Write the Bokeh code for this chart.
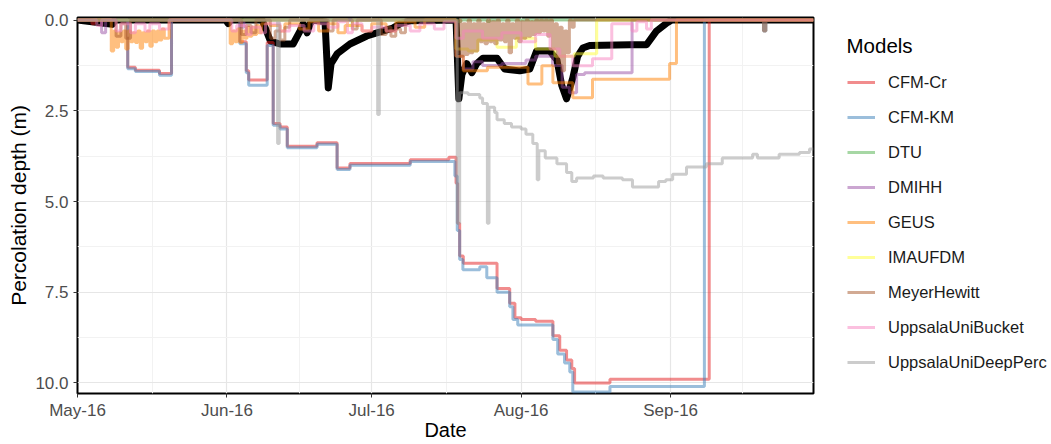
import pandas as pd
from bokeh.plotting import figure
from bokeh.layouts import row
from bokeh.models import (Range1d, FixedTicker, DatetimeTickFormatter, NumeralTickFormatter,
                          Legend, LegendItem, Label)
from bokeh.embed import file_html
from bokeh.resources import INLINE

# ---------------- data (dates as "MM-DD HH" in 2016, depth in m) ----------------
models = ["CFM-Cr", "CFM-KM", "DTU", "DMIHH", "GEUS", "IMAUFDM", "MeyerHewitt",
          "UppsalaUniBucket", "UppsalaUniDeepPerc"]
colors = ["#E41A1C", "#377EB8", "#4DAF4A", "#984EA3", "#FF7F00", "#FFFF33", "#A65628",
          "#F781BF", "#999999"]

cfm_cr_dates = ["05-01 00", "05-04 00", "05-04 12", "05-11 10", "05-13 00", "05-18 00", "05-20 12",
                "06-03 16", "06-05 00", "06-05 12", "06-09 08", "06-10 14", "06-12 00", "06-13 12",
                "06-19 16", "06-23 20", "06-26 12", "07-09 00", "07-17 00", "07-18 12", "07-18 20",
                "07-19 06", "07-20 00", "07-27 00", "07-29 15", "07-30 17", "08-01 00", "08-04 00",
                "08-07 14", "08-09 00", "08-10 10", "08-11 12", "08-12 02", "08-19 10", "09-09 00",
                "09-30 15"]
cfm_cr_depth = [0, 0.1, 0, 1.30, 1.38, 1.47, 0,
                0.6, 1.4, 1.65, 0.62, 2.85, 2.95, 3.48,
                3.38, 4.08, 3.95, 3.85, 3.78, 4.5, 5.6,
                6.5, 6.7, 7.4, 7.8, 8.2, 8.25, 8.3,
                8.7, 9.1, 9.37, 9.6, 10.0, 9.9, 0,
                0]

cfm_km_dates = ["05-01 00", "05-11 10", "05-13 00", "05-18 00", "05-20 12", "06-03 16", "06-05 00",
                "06-05 12", "06-09 08", "06-10 14", "06-12 00", "06-13 12", "06-19 16", "06-23 20",
                "06-26 12", "07-09 00", "07-18 06", "07-18 18", "07-19 06", "07-19 22", "07-23 10",
                "07-24 21", "07-27 00", "07-29 15", "07-30 07", "07-31 07", "08-07 14", "08-08 14",
                "08-10 00", "08-11 02", "08-11 17", "08-19 10", "09-08 00", "09-20 06", "09-20 18",
                "09-30 15"]
cfm_km_depth = [0, 1.34, 1.42, 1.52, 0, 0.65, 1.45,
                1.8, 0.7, 2.9, 3.0, 3.52, 3.42, 4.12,
                4.0, 3.9, 4.3, 5.8, 6.6, 6.88, 6.8,
                7.1, 7.5, 7.9, 8.25, 8.4, 8.8, 9.2,
                9.45, 9.7, 10.25, 10.1, 0, 0.3, 0,
                0]

dtu_dates = ["05-01 00", "07-19 00", "07-19 12", "07-25 00", "07-25 12", "09-30 15"]
dtu_depth = [0, 0.04, 0, 0.04, 0, 0]

dmihh_dates = ["05-01 00", "05-06 00", "05-06 20", "06-04 00", "06-04 12", "07-18 12", "07-20 00",
               "07-22 00", "07-24 00", "07-28 00", "08-02 00", "08-04 00", "08-07 12", "08-09 12",
               "08-11 00", "08-12 12", "08-14 04", "08-24 00", "09-30 15"]
dmihh_depth = [0, 0.35, 0, 0.2, 0, 1.0, 1.35,
               1.15, 1.25, 1.2, 1.1, 1.0, 1.25, 1.85,
               2.0, 1.5, 1.45, 0, 0]

geus_dates = ["05-01 00", "05-08 00", "05-08 12", "05-09 00", "05-09 12", "05-10 00", "05-10 12",
              "05-11 00", "05-11 12", "05-12 00", "05-12 12", "05-13 00", "05-13 12", "05-14 00",
              "05-14 12", "05-15 00", "05-15 12", "05-16 00", "05-16 12", "05-17 00", "05-17 12",
              "05-18 00", "05-18 12", "05-19 00", "05-20 00",
              "06-01 16", "06-02 04", "06-02 16", "06-03 04", "06-03 16", "06-04 04", "06-04 16",
              "06-05 04", "06-05 16", "06-06 04", "06-06 16", "06-07 04", "06-07 16", "06-08 04",
              "06-10 00", "06-12 00", "06-13 00", "06-16 00", "06-18 00", "06-20 00",
              "06-22 00", "06-24 00", "06-25 12", "06-29 00", "07-01 00", "07-04 00", "07-06 00",
              "07-10 00", "07-12 00", "07-18 12", "07-20 00", "07-25 00", "08-02 10", "08-05 07",
              "08-07 14", "08-11 17", "08-15 19", "08-31 19", "09-02 05", "09-30 15"]
geus_depth = [0, 0.85, 0.3, 0.75, 0.35, 0.6, 0.3,
              0.8, 0.3, 0.6, 0.35, 0.62, 0.3, 0.78,
              0.35, 0.6, 0.3, 0.72, 0.3, 0.6, 0.3,
              0.55, 0.25, 0.5, 0,
              0.65, 0.3, 0.6, 0.25, 0.62, 0.3, 0.5,
              0.2, 0.45, 0.2, 0.4, 0.15, 0.35, 0.1,
              0.15, 0.3, 0.1, 0.25, 0.05, 0.3,
              0.1, 0.35, 0.15, 0.3, 0.1, 0.3, 0.05,
              0.2, 0, 1.0, 1.4, 1.3, 1.76, 1.26,
              1.73, 2.14, 1.63, 1.2, 0, 0]

imau_dates = ["05-01 00", "06-26 00", "06-27 00", "07-18 12", "07-21 00", "07-23 00", "07-27 00",
              "07-31 00", "08-04 00", "08-08 00", "08-12 00", "08-16 16", "09-30 15"]
imau_depth = [0, 0.15, 0, 0.8, 0.85, 0.55, 0.75,
              0.5, 0.8, 1.0, 0.93, 0, 0]

meyer_dates = ["05-01 00", "05-09 00", "05-10 00", "05-11 00", "05-12 00", "06-04 00", "06-05 00",
               "06-06 00", "06-07 00", "06-10 00", "06-11 00", "06-12 00", "06-13 00", "06-14 00",
               "06-22 00", "06-23 00", "06-27 00", "06-28 00", "07-03 00", "07-04 00", "07-05 00",
               "07-06 00", "07-07 00", "07-08 00",
               "07-18 12", "07-19 00", "07-19 12", "07-20 00", "07-20 12", "07-21 00", "07-21 12",
               "07-22 00", "07-22 12", "07-23 00", "07-23 12", "07-24 00", "07-24 12", "07-25 00",
               "07-25 12", "07-26 00", "07-26 12", "07-27 00", "07-27 12", "07-28 00", "07-28 12",
               "07-29 00", "07-29 12", "07-30 00", "07-30 12", "07-31 00", "07-31 12", "08-01 00",
               "08-01 12", "08-02 00", "08-02 12", "08-03 00", "08-03 12", "08-04 00", "08-04 12",
               "08-05 00", "08-05 12", "08-06 00", "08-06 12", "08-07 00", "08-07 12", "08-08 00",
               "08-08 12", "08-09 00", "08-09 12", "08-10 00", "08-10 12", "08-11 00", "08-11 12",
               "08-12 00", "09-20 06", "09-20 18", "09-30 15"]
meyer_depth = [0, 0.45, 0.1, 0.5, 0, 0.4, 0.15,
               0.35, 0, 0.5, 0.3, 0.55, 0.2, 0,
               0.3, 0, 0.25, 0, 0.4, 0.2, 0.45,
               0.25, 0.35, 0,
               0.9, 0, 1.0, 0.1, 0.95, 0, 0.9,
               0.1, 0.85, 0, 0.6, 0.1, 0.65, 0,
               0.6, 0.05, 0.65, 0, 0.55, 0.1, 0.6,
               0, 0.9, 0.1, 0.5, 0, 0.6, 0.05,
               0.5, 0, 0.45, 0.05, 0.4, 0, 0.35,
               0, 0.3, 0, 0.45, 0, 0.8, 0.1,
               1.2, 0.2, 1.4, 0.3, 0.9, 0, 0.2,
               0, 0.3, 0, 0]

bucket_dates = ["05-01 00", "05-05 00", "05-06 00", "05-09 00", "05-10 00", "05-12 00", "05-13 00",
                "05-15 00", "05-16 00", "05-18 00", "05-20 00", "06-02 00", "06-03 00", "06-05 00",
                "06-06 00", "06-08 00", "06-09 00", "06-12 00", "06-14 00", "06-17 00", "06-19 00",
                "06-22 00", "06-24 00", "06-26 00", "06-27 00", "06-29 00", "07-01 00", "07-04 00",
                "07-06 00", "07-09 00", "07-11 00", "07-14 00", "07-16 00", "07-18 12", "07-20 00",
                "07-24 00", "07-28 00", "08-01 00", "08-04 00", "08-07 00", "08-09 00", "08-11 17",
                "08-15 19", "08-19 19", "08-24 00", "08-25 00", "08-27 00", "08-28 00", "09-30 15"]
bucket_depth = [0, 0.15, 0, 0.3, 0.1, 0.35, 0.1,
                0.3, 0.1, 0.25, 0, 0.3, 0.15, 0.4,
                0.2, 0.35, 0.1, 0.3, 0.15, 0.3, 0.1,
                0.2, 0.05, 0.35, 0.1, 0.3, 0.2, 0.3,
                0.15, 0.3, 0.1, 0.25, 0.05, 0.5, 0.3,
                0.5, 0.35, 0.6, 0.4, 0.8, 1.0, 1.26,
                1.07, 0.1, 0.3, 0.05, 0.25, 0, 0]

deep_dates = ["05-01 00", "06-11 12", "06-11 20", "07-02 06", "07-02 14", "07-18 18", "07-19 06",
              "07-21 00", "07-23 10", "07-24 00", "07-25 00", "07-25 08", "07-26 12", "07-27 00",
              "07-28 12", "07-30 00", "08-01 00", "08-02 00", "08-03 10", "08-04 08", "08-04 16",
              "08-06 00", "08-08 10", "08-10 10", "08-11 12", "08-12 12", "08-16 00", "08-18 00",
              "08-22 00", "08-24 02", "08-29 12", "08-31 00", "09-01 10", "09-04 07", "09-08 10",
              "09-11 17", "09-18 00", "09-19 00", "09-23 12", "09-27 17", "09-29 19", "09-30 15"]
deep_depth = [0, 3.4, 0, 2.6, 0, 5.6, 2.0,
              2.05, 2.15, 2.3, 5.6, 2.4, 2.55, 2.75,
              2.85, 2.95, 3.0, 3.15, 3.4, 4.4, 3.6,
              3.8, 3.96, 4.2, 4.45, 4.35, 4.3, 4.35,
              4.4, 4.6, 4.45, 4.4, 4.25, 4.05, 3.96,
              3.8, 3.7, 3.8, 3.7, 3.65, 3.55, 3.55]

obs_dates = ["05-01 00", "05-08 06", "05-08 18", "05-09 06", "05-31 18", "06-01 06", "06-01 18",
             "06-08 07", "06-10 00", "06-12 00", "06-14 17", "06-16 04", "06-16 19", "06-17 15",
             "06-18 06", "06-18 18", "06-21 08", "06-22 00", "06-22 14", "06-23 20", "06-26 12",
             "06-30 00", "07-03 10", "07-05 10", "07-06 22", "07-09 00", "07-18 12", "07-19 02",
             "07-19 17", "07-20 17", "07-21 19", "07-22 19", "07-24 02", "07-27 00", "07-28 14",
             "07-31 17", "08-02 19", "08-04 05", "08-06 22", "08-08 10", "08-09 10", "08-10 10",
             "08-11 17", "08-12 17", "08-13 19", "08-15 05", "08-23 12", "08-27 00", "08-29 02",
             "08-31 05", "09-01 06", "09-30 15"]
obs_depth = [0, 0.12, 0, 0, 0, 0.1, 0,
             0, 0.58, 0.66, 0.66, 0.3, 0.1, 0.35,
             0.1, 0, 0.05, 1.87, 1.2, 0.93, 0.66,
             0.44, 0.3, 0.22, 0.1, 0.02, 0, 2.17,
             1.5, 1.2, 1.45, 1.2, 1.05, 1.05, 1.35,
             1.4, 1.35, 0.85, 0.85, 1.1, 1.8, 2.17,
             1.6, 1.0, 0.77, 0.7, 0.68, 0.68, 0.3,
             0.08, 0, 0]

series_dates = [cfm_cr_dates, cfm_km_dates, dtu_dates, dmihh_dates, geus_dates, imau_dates,
                meyer_dates, bucket_dates, deep_dates]
series_depth = [cfm_cr_depth, cfm_km_depth, dtu_depth, dmihh_depth, geus_depth, imau_depth,
                meyer_depth, bucket_depth, deep_depth]

month_ticks = ["2016-05-01", "2016-06-01", "2016-07-01", "2016-08-01", "2016-09-01"]
month_minor = ["2016-05-16 12:00", "2016-06-16", "2016-07-16 12:00", "2016-08-16 12:00", "2016-09-16"]
y_ticks = [0, 2.5, 5, 7.5, 10]
y_minor = [1.25, 3.75, 6.25, 8.75]


def to_dt(lst):
    return pd.to_datetime(["2016-" + s for s in lst], format="%Y-%m-%d %H")


def ms(lst):
    return [pd.Timestamp(s).value / 1e6 for s in lst]


FONT = "Liberation Sans"
LW = 3
ALPHA = 0.5
H = 444
FRAME_BOTTOM = 393   # legend panel frame is aligned with the main plot frame (17..393)

# ---------------- main plot ----------------
p = figure(width=815, height=H, x_axis_type="datetime", output_backend="svg",
           toolbar_location=None,
           x_range=Range1d(pd.Timestamp("2016-05-01"), pd.Timestamp("2016-09-30 15:00")),
           y_range=Range1d(10.29, -0.07),
           min_border_left=77, min_border_right=2, min_border_top=17, min_border_bottom=51)

p.background_fill_color = "white"
p.border_fill_color = "white"
p.outline_line_color = "black"
p.outline_line_width = 2

p.xgrid.ticker = FixedTicker(ticks=ms(month_ticks), minor_ticks=ms(month_minor))
p.ygrid.ticker = FixedTicker(ticks=y_ticks, minor_ticks=y_minor)
for g in (p.xgrid, p.ygrid):
    g.grid_line_color = "#e6e6e6"
    g.grid_line_width = 1.2
    g.minor_grid_line_color = "#f2f2f2"
    g.minor_grid_line_width = 1

p.xaxis.ticker = FixedTicker(ticks=ms(month_ticks))
fmt = "%b-%y"
p.xaxis.formatter = DatetimeTickFormatter(days=fmt, months=fmt, years=fmt, hours=fmt,
                                          hourmin=fmt, minutes=fmt, minsec=fmt, seconds=fmt,
                                          milliseconds=fmt, microseconds=fmt)
p.yaxis.ticker = FixedTicker(ticks=y_ticks)
p.yaxis.formatter = NumeralTickFormatter(format="0.0")
for ax in (p.xaxis[0], p.yaxis[0]):
    ax.axis_line_color = None
    ax.major_tick_line_color = "#333333"
    ax.major_tick_out = 4
    ax.major_tick_in = 0
    ax.minor_tick_line_color = None
    ax.major_label_text_font = FONT
    ax.major_label_text_font_size = "17px"
    ax.major_label_text_color = "#4d4d4d"
    ax.axis_label_text_font = FONT
    ax.axis_label_text_font_style = "normal"
    ax.axis_label_text_color = "#000000"
p.xaxis.axis_label = "Date"
p.xaxis.axis_label_text_font_size = "20px"
p.xaxis.major_label_standoff = 3
p.xaxis.axis_label_standoff = -4
p.yaxis.axis_label = "Percolation depth (m)"
p.yaxis.axis_label_text_font_size = "21px"
p.yaxis.major_label_standoff = 5
p.yaxis.axis_label_standoff = 2

# observations (thick black)
p.line(to_dt(obs_dates), obs_depth, line_color="black", line_width=7,
       line_join="round", line_cap="round")

for col, d, v in zip(colors, series_dates, series_depth):
    p.step(to_dt(d), v, mode="after", line_color=col, line_alpha=ALPHA, line_width=LW)

# ---------------- legend panel ----------------
lg = figure(width=236, height=H, output_backend="svg", toolbar_location=None,
            x_range=Range1d(0, 1), y_range=Range1d(0, 1),
            min_border=0, outline_line_color=None)
lg.axis.visible = False
lg.grid.visible = False
items = []
for name, col in zip(models, colors):
    r = lg.line([0, 1], [5, 5], line_color=col, line_alpha=ALPHA, line_width=LW)
    items.append(LegendItem(label=name, renderers=[r]))

legend = Legend(items=items, location=(32, 21),
                label_text_font=FONT, label_text_font_size="16.5px", label_text_color="#1a1a1a",
                glyph_width=28, glyph_height=20, label_height=20, label_standoff=13,
                spacing=15, padding=0, margin=0,
                border_line_color=None, background_fill_alpha=0)
lg.add_layout(legend, "center")
lg.add_layout(Label(x=31, y=FRAME_BOTTOM - 45, x_units="screen", y_units="screen", text="Models",
                    text_font=FONT, text_font_size="20.5px", text_color="#000000",
                    text_baseline="middle", text_align="left"))

layout = row(p, lg)
open("out.html", "w").write(file_html(layout, INLINE))
